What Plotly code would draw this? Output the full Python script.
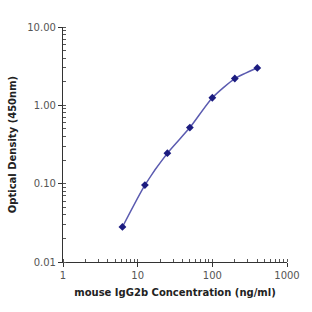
import plotly.graph_objects as go

conc = [6.25, 12.5, 25, 50, 100, 200, 400]
od = [0.028, 0.096, 0.245, 0.52, 1.25, 2.2, 3.0]
y_tickvals = [0.01, 0.1, 1, 10]
y_ticktext = ["0.01", "0.10", "1.00", "10.00"]
x_tickvals = [1, 10, 100, 1000]
x_ticktext = ["1", "10", "100", "1000"]

fig = go.Figure()
fig.add_trace(go.Scatter(
    x=conc, y=od, mode="lines+markers",
    line=dict(color="#5b5bb0", width=1.5, shape="spline", smoothing=0.6),
    marker=dict(color="#1c1c80", size=6, symbol="diamond"),
    showlegend=False,
))

axis_common = dict(
    type="log", showgrid=False, zeroline=False, showline=True,
    linecolor="#333", linewidth=1.2, ticks="outside", ticklen=4,
    tickcolor="#333", tickfont=dict(family="DejaVu Sans", size=10, color="#555"),
    minor=dict(ticks="inside", ticklen=2.5, tickcolor="#555", dtick="D1", showgrid=False),
)

fig.update_layout(
    width=312, height=312, margin=dict(l=61, r=22, t=27, b=50),
    plot_bgcolor="white", paper_bgcolor="white",
    xaxis=dict(axis_common, range=[0, 3], tickvals=x_tickvals, ticktext=x_ticktext,
               title=dict(text="<b>mouse IgG2b Concentration (ng/ml)</b>",
                          font=dict(family="DejaVu Sans", size=10, color="#222"), standoff=8)),
    yaxis=dict(axis_common, range=[-2, 1], tickvals=y_tickvals, ticktext=y_ticktext,
               title=dict(text="<b>Optical Density (450nm)</b>",
                          font=dict(family="DejaVu Sans", size=10, color="#222"), standoff=8)),
)
fig.write_html("out.html")
